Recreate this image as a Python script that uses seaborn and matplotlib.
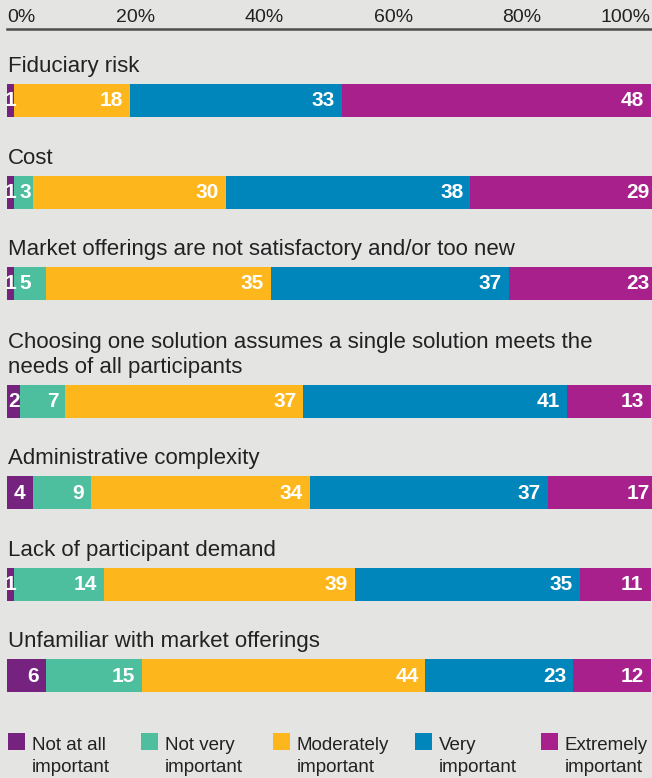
import numpy as np
import pandas as pd
import matplotlib
matplotlib.use("Agg")
import matplotlib.pyplot as plt
from matplotlib.patches import Rectangle
import seaborn as sns

# ---------------- data ----------------
categories = [
    "Fiduciary risk",
    "Cost",
    "Market offerings are not satisfactory and/or too new",
    "Choosing one solution assumes a single solution meets the\nneeds of all participants",
    "Administrative complexity",
    "Lack of participant demand",
    "Unfamiliar with market offerings",
]
not_at_all = [1, 1, 1, 2, 4, 1, 6]
not_very = [0, 3, 5, 7, 9, 14, 15]
moderately = [18, 30, 35, 37, 34, 39, 44]
very = [33, 38, 37, 41, 37, 35, 23]
extremely = [48, 29, 23, 13, 17, 11, 12]

series_names = ["Not at all\nimportant", "Not very\nimportant", "Moderately\nimportant",
                "Very\nimportant", "Extremely\nimportant"]
series_values = [not_at_all, not_very, moderately, very, extremely]
tick_values = [0, 20, 40, 60, 80, 100]
tick_labels = ["0%", "20%", "40%", "60%", "80%", "100%"]

# ---------------- style ----------------
colors = ["#75237f", "#4dbf9f", "#fdb71d", "#0086bb", "#a8208c"]
bg = "#e4e4e3"
txt = "#222222"
FONT = "Liberation Sans"

W, H, DPI = 652, 778, 100
sns.set_theme(style="white")
plt.rcParams["font.family"] = [FONT, "DejaVu Sans"]

fig = plt.figure(figsize=(W / DPI, H / DPI), dpi=DPI, facecolor=bg)

# layout in pixel units (y axis = pixel rows from top)
bar_centers = [100.5, 192.5, 283.5, 401.5, 493, 584.5, 676]
bar_h = 33
ax_left_px, ax_right_px = 7.3, 652
ax_top_px, ax_bot_px = 28.5, 705
px_per_pct = 6.432
xmax = (ax_right_px - ax_left_px) / px_per_pct

ax = fig.add_axes([ax_left_px / W, (H - ax_bot_px) / H,
                   (ax_right_px - ax_left_px) / W, (ax_bot_px - ax_top_px) / H])
ax.set_facecolor(bg)

df = pd.DataFrame({"category": categories, "pos": bar_centers})
for name, vals in zip(series_names, series_values):
    df[name] = vals

min_gap = np.diff(sorted(bar_centers)).min()
left = np.zeros(len(df))
for name, col in zip(series_names, colors):
    vals = df[name].to_numpy(dtype=float)
    sns.barplot(x=vals, y=df["pos"], orient="h", native_scale=True, left=left,
                color=col, width=bar_h / min_gap, ax=ax, linewidth=0, saturation=1)
    # value labels
    for v, l, yc in zip(vals, left, df["pos"]):
        if v <= 0:
            continue
        if v <= 2:
            xpos, ha = l + v / 2, "center"
        elif v <= 5:
            xpos, ha = l + 6 / px_per_pct, "left"
        else:
            xpos, ha = l + v - 7 / px_per_pct, "right"
        ax.text(xpos, yc + 0.5, f"{int(v)}", ha=ha, va="center", color="white",
                fontsize=15, fontweight="bold", clip_on=False)
    left = left + vals

ax.set_xlim(0, xmax)
ax.set_ylim(ax_bot_px, ax_top_px)
ax.set_xlabel("")
ax.set_ylabel("")
ax.set_yticks([])

# category labels above bars
for cat, yc in zip(categories, bar_centers):
    lines = cat.split("\n")
    n = len(lines)
    for i, line in enumerate(lines):
        yb = yc - bar_h / 2 - 12 - (n - 1 - i) * 25
        ax.text(0.1, yb, line, ha="left", va="baseline", fontsize=16, color=txt)

# axis on top
for s in ["left", "right", "bottom"]:
    ax.spines[s].set_visible(False)
ax.spines["top"].set_color("#4d4d4d")
ax.spines["top"].set_linewidth(1.8)
ax.xaxis.tick_top()
ax.set_xticks(tick_values)
ax.set_xticklabels(tick_labels, fontsize=14, color=txt)
ax.tick_params(axis="x", length=0, pad=2)
tl = ax.get_xticklabels()
tl[0].set_ha("left")
tl[-1].set_ha("right")

# legend (manual)
sq_x = [8, 141, 273, 415, 541]
sq = 17
for x0, name, col in zip(sq_x, series_names, colors):
    fig.add_artist(Rectangle((x0 / W, (H - 750) / H), sq / W, sq / H,
                             transform=fig.transFigure, facecolor=col, edgecolor="none"))
    l1, l2 = name.split("\n")
    fig.text((x0 + 24) / W, (H - 750) / H, l1, ha="left", va="baseline",
             fontsize=13.5, color=txt)
    fig.text((x0 + 24) / W, (H - 772) / H, l2, ha="left", va="baseline",
             fontsize=13.5, color=txt)

fig.savefig("out.png", dpi=DPI, facecolor=bg)
